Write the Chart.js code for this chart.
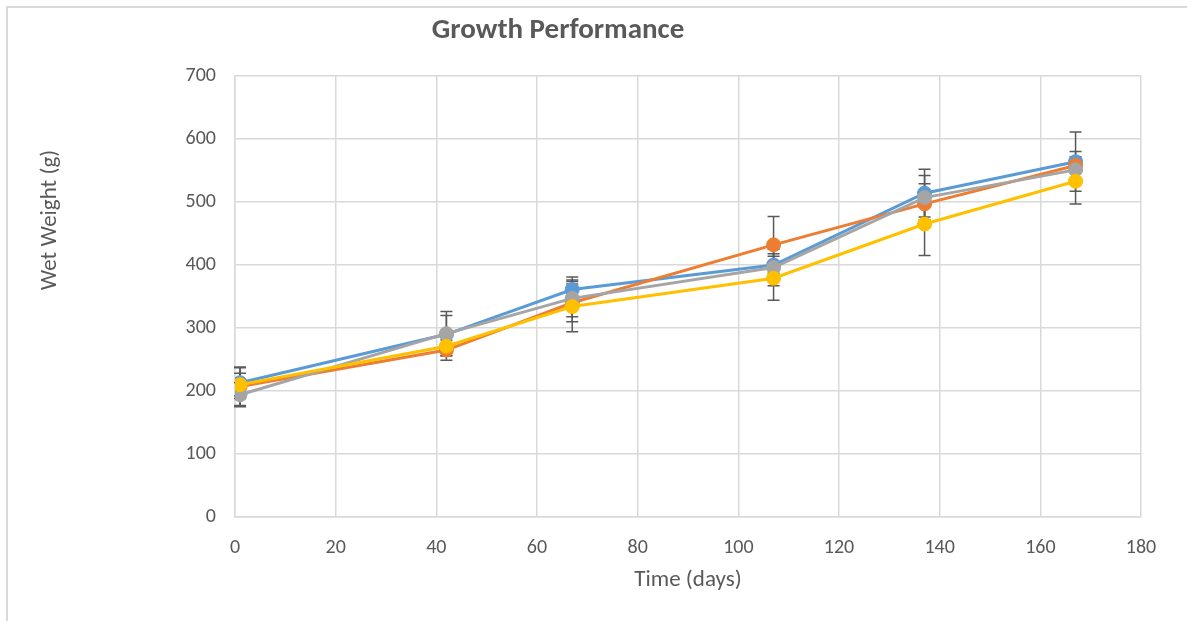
<!DOCTYPE html>
<html>
<head>
<meta charset="utf-8">
<script src="https://cdn.jsdelivr.net/npm/chart.js@4/dist/chart.umd.min.js"></script>
<style>
  html, body { margin: 0; padding: 0; background: #fff; }
  canvas { display: block; }
</style>
</head>
<body>
<canvas id="growth" width="1187" height="621"></canvas>
<script>
// time points (days)
var days = [1, 42, 67, 107, 137, 167];

// mean wet weight (g) for each group
var series1 = [213, 290, 361, 400, 514, 564];
var series2 = [207, 265, 340, 432, 497, 558];
var series3 = [194, 291, 347, 396, 507, 551];
var series4 = [210, 271, 334, 379, 465, 533];

// error bar size (+/- g)
var err1 = [25, 30, 20, 18, 38, 47];
var err2 = [30, 16, 30, 45, 32, 22];
var err3 = [19, 35, 29, 29, 35, 21];
var err4 = [18, 15, 40, 35, 50, 36];

var yTicks = [0, 100, 200, 300, 400, 500, 600, 700];

var textColor = '#595959';
var gridColor = '#d9d9d9';
var font = 'Calibri, Carlito, "Liberation Sans", Arial, sans-serif';

function pts(vals) {
    return days.map(function(d, i) { return { x: d, y: vals[i] }; });
}

function makeSet(vals, errs, color, order) {
    return {
        data: pts(vals),
        errors: errs,
        borderColor: color,
        backgroundColor: color,
        pointBackgroundColor: color,
        pointBorderColor: color,
        borderWidth: 3,
        pointRadius: 7,
        pointBorderWidth: 1,
        tension: 0,
        order: order
    };
}

// frame, titles and error bars
var extras = {
    id: 'extras',
    beforeDraw: function(chart) {
        var c = chart.ctx;
        c.save();
        c.fillStyle = '#fff';
        c.fillRect(0, 0, chart.width, chart.height);
        c.strokeStyle = gridColor;
        c.lineWidth = 2;
        c.strokeRect(7, 7, chart.width + 20, chart.height + 20);
        c.restore();
    },
    beforeDatasetsDraw: function(chart) {
        var c = chart.ctx;
        var xs = chart.scales.x, ys = chart.scales.y;
        c.save();
        c.strokeStyle = '#595959';
        c.lineWidth = 1.5;
        chart.data.datasets.forEach(function(ds) {
            ds.data.forEach(function(p, i) {
                var e = ds.errors[i];
                var px = xs.getPixelForValue(p.x);
                var top = ys.getPixelForValue(p.y + e);
                var bot = ys.getPixelForValue(p.y - e);
                c.beginPath();
                c.moveTo(px, top); c.lineTo(px, bot);
                c.moveTo(px - 6, top); c.lineTo(px + 6, top);
                c.moveTo(px - 6, bot); c.lineTo(px + 6, bot);
                c.stroke();
            });
        });
        c.restore();
    },
    afterDraw: function(chart) {
        var c = chart.ctx;
        var area = chart.chartArea;
        c.save();
        c.fillStyle = textColor;
        c.textAlign = 'center';
        c.textBaseline = 'middle';
        c.font = 'bold 29px ' + font;
        c.fillText('Growth Performance', 558, 31);
        c.font = '23px ' + font;
        c.fillText('Time (days)', (area.left + area.right) / 2, 580);
        c.translate(50, 220);
        c.rotate(-Math.PI / 2);
        c.fillText('Wet Weight (g)', 0, 0);
        c.restore();
    }
};

var ctx = document.getElementById('growth').getContext('2d');

var chart = new Chart(ctx, {
    type: 'line',
    data: {
        datasets: [
            makeSet(series1, err1, '#5B9BD5', 4),
            makeSet(series2, err2, '#ED7D31', 3),
            makeSet(series3, err3, '#A5A5A5', 2),
            makeSet(series4, err4, '#FFC000', 1)
        ]
    },
    options: {
        responsive: false,
        animation: false,
        layout: { padding: { left: 0, top: 76, right: 46, bottom: 0 } },
        plugins: {
            legend: { display: false },
            tooltip: { enabled: false }
        },
        scales: {
            x: {
                type: 'linear',
                min: 0,
                max: 180,
                ticks: { stepSize: 20, color: textColor, padding: 19, font: { size: 20, family: font } },
                grid: { color: gridColor, lineWidth: 1.5, drawTicks: false },
                border: { color: gridColor, width: 1.5 },
                afterFit: function(s) { s.height = 104; }
            },
            y: {
                min: 0,
                max: 700,
                afterBuildTicks: function(s) { s.ticks = yTicks.map(function(v) { return { value: v }; }); },
                ticks: { color: textColor, padding: 19, font: { size: 20, family: font } },
                grid: { color: gridColor, lineWidth: 1.5, drawTicks: false },
                border: { color: gridColor, width: 1.5 },
                afterFit: function(s) { s.width = 235; }
            }
        }
    },
    plugins: [extras]
});
</script>
</body>
</html>
